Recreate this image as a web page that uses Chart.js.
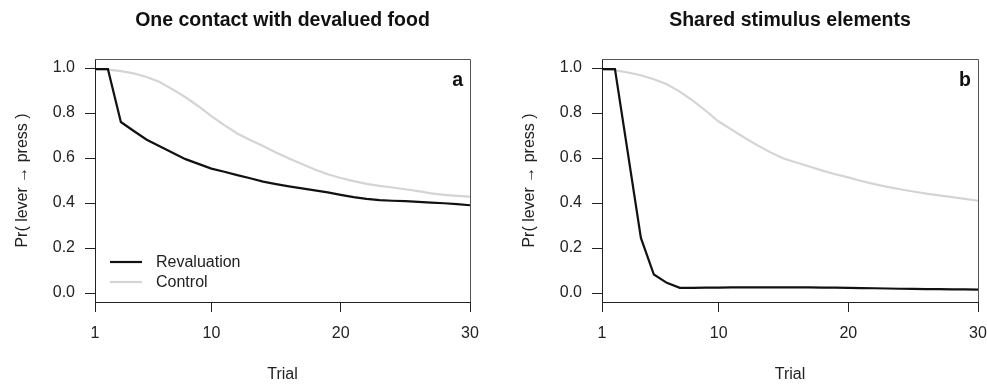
<!DOCTYPE html>
<html>
<head>
<meta charset="utf-8">
<script src="https://cdn.jsdelivr.net/npm/chart.js@4.4.1/dist/chart.umd.min.js"></script>
<style>
  body { margin: 0; background: #fff; }
  #wrap { position: relative; width: 987px; height: 385px; }
  canvas { position: absolute; top: 0; }
  #left { left: 0; }
  #right { left: 507px; }
</style>
</head>
<body>
<div id="wrap">
  <canvas id="left" width="490" height="385"></canvas>
  <canvas id="right" width="480" height="385"></canvas>
</div>
<script>
const trials = [1, 2, 3, 4, 5, 6, 7, 8, 9, 10, 11, 12, 13, 14, 15,
                16, 17, 18, 19, 20, 21, 22, 23, 24, 25, 26, 27, 28, 29, 30];

// one contact with devalued food
const revalA = [0.995, 0.995, 0.760, 0.720, 0.681, 0.652, 0.623, 0.595, 0.574, 0.553,
                0.539, 0.524, 0.510, 0.495, 0.484, 0.474, 0.465, 0.456, 0.447, 0.436,
                0.426, 0.418, 0.413, 0.410, 0.408, 0.405, 0.402, 0.399, 0.395, 0.390];
const controlA = [0.995, 0.993, 0.986, 0.976, 0.960, 0.938, 0.905, 0.870, 0.830, 0.786,
                  0.746, 0.709, 0.680, 0.653, 0.624, 0.598, 0.573, 0.549, 0.528, 0.511,
                  0.497, 0.485, 0.476, 0.469, 0.461, 0.453, 0.443, 0.436, 0.432, 0.428];

// shared stimulus elements
const revalB = [0.995, 0.995, 0.620, 0.245, 0.082, 0.045, 0.023, 0.023, 0.024, 0.024,
                0.025, 0.025, 0.025, 0.025, 0.025, 0.025, 0.025, 0.024, 0.024, 0.023,
                0.022, 0.021, 0.020, 0.019, 0.018, 0.017, 0.017, 0.016, 0.016, 0.015];
const controlB = [0.995, 0.990, 0.980, 0.968, 0.950, 0.928, 0.895, 0.855, 0.810, 0.762,
                  0.726, 0.690, 0.656, 0.625, 0.598, 0.580, 0.562, 0.544, 0.528, 0.514,
                  0.498, 0.484, 0.472, 0.461, 0.451, 0.442, 0.434, 0.426, 0.418, 0.410];

const xTicks = [1, 10, 20, 30];
const yTicks = [0, 0.2, 0.4, 0.6, 0.8, 1.0];

const FONT = '"Liberation Sans", Arial, Helvetica, sans-serif';
Chart.defaults.font.family = FONT;
Chart.defaults.font.size = 16;
Chart.defaults.color = '#222';

// frame top/right, panel title, corner letter and the inset legend
const panelDecor = {
  id: 'panelDecor',
  afterDraw(chart, args, opts) {
    const { ctx, chartArea: a } = chart;
    ctx.save();
    ctx.strokeStyle = '#555';
    ctx.lineWidth = 1;
    ctx.beginPath();
    ctx.moveTo(a.left, Math.round(a.top) + 0.5);
    ctx.lineTo(Math.round(a.right) + 0.5, Math.round(a.top) + 0.5);
    ctx.lineTo(Math.round(a.right) + 0.5, a.bottom);
    ctx.stroke();

    ctx.fillStyle = '#111';
    ctx.font = 'bold 19.5px ' + FONT;
    ctx.textAlign = 'center';
    ctx.textBaseline = 'alphabetic';
    ctx.fillText(opts.title, (a.left + a.right) / 2, 26);

    ctx.textAlign = 'right';
    ctx.fillText(opts.letter, a.right - 7, 86);

    if (opts.legend) {
      ctx.font = '16px ' + FONT;
      ctx.textAlign = 'left';
      ctx.textBaseline = 'middle';
      chart.data.datasets.forEach((ds, i) => {
        const y = a.bottom - 40 + i * 20;
        ctx.strokeStyle = ds.borderColor;
        ctx.lineWidth = ds.borderWidth;
        ctx.beginPath();
        ctx.moveTo(a.left + 15, y);
        ctx.lineTo(a.left + 47, y);
        ctx.stroke();
        ctx.fillStyle = '#222';
        ctx.fillText(ds.label, a.left + 61, y + 1);
      });
    }
    ctx.restore();
  }
};

function makePanel(id, reval, control, title, letter, legend, padRight) {
  return new Chart(document.getElementById(id), {
    type: 'line',
    data: {
      labels: trials,
      datasets: [
        {
          label: 'Revaluation',
          data: reval,
          borderColor: '#111',
          borderWidth: 2.2,
          pointRadius: 0,
          tension: 0
        },
        {
          label: 'Control',
          data: control,
          borderColor: '#d4d4d4',
          borderWidth: 2.2,
          pointRadius: 0,
          tension: 0
        }
      ]
    },
    options: {
      responsive: false,
      animation: false,
      events: [],
      layout: { padding: { top: 59, left: 0, right: padRight, bottom: 0 } },
      plugins: {
        legend: { display: false },
        tooltip: { enabled: false },
        panelDecor: { title: title, letter: letter, legend: legend }
      },
      scales: {
        x: {
          type: 'linear',
          min: 1,
          max: 30,
          afterBuildTicks: s => { s.ticks = xTicks.map(v => ({ value: v })); },
          afterFit: s => { s.height = 83; s.paddingLeft = 0; s.paddingRight = 0; },
          border: { display: true, color: '#222', width: 1 },
          grid: { drawOnChartArea: false, drawTicks: true, tickLength: 10, color: '#222' },
          ticks: { padding: 12, maxRotation: 0, callback: v => String(v) },
          title: { display: true, text: 'Trial', padding: { top: 0, bottom: 1 } }
        },
        y: {
          min: -0.04,
          max: 1.04,
          afterBuildTicks: s => { s.ticks = yTicks.map(v => ({ value: v })); },
          afterFit: s => { s.width = 95; s.paddingTop = 0; s.paddingBottom = 0; },
          border: { display: true, color: '#222', width: 1 },
          grid: { drawOnChartArea: false, drawTicks: true, tickLength: 10, color: '#222' },
          ticks: { padding: 10, callback: v => v.toFixed(1) },
          title: { display: true, text: 'Pr( lever \u2192 press )', padding: { top: 13, bottom: 0 } }
        }
      }
    },
    plugins: [panelDecor]
  });
}

makePanel('left', revalA, controlA, 'One contact with devalued food', 'a', true, 20);
makePanel('right', revalB, controlB, 'Shared stimulus elements', 'b', false, 9);
</script>
</body>
</html>
